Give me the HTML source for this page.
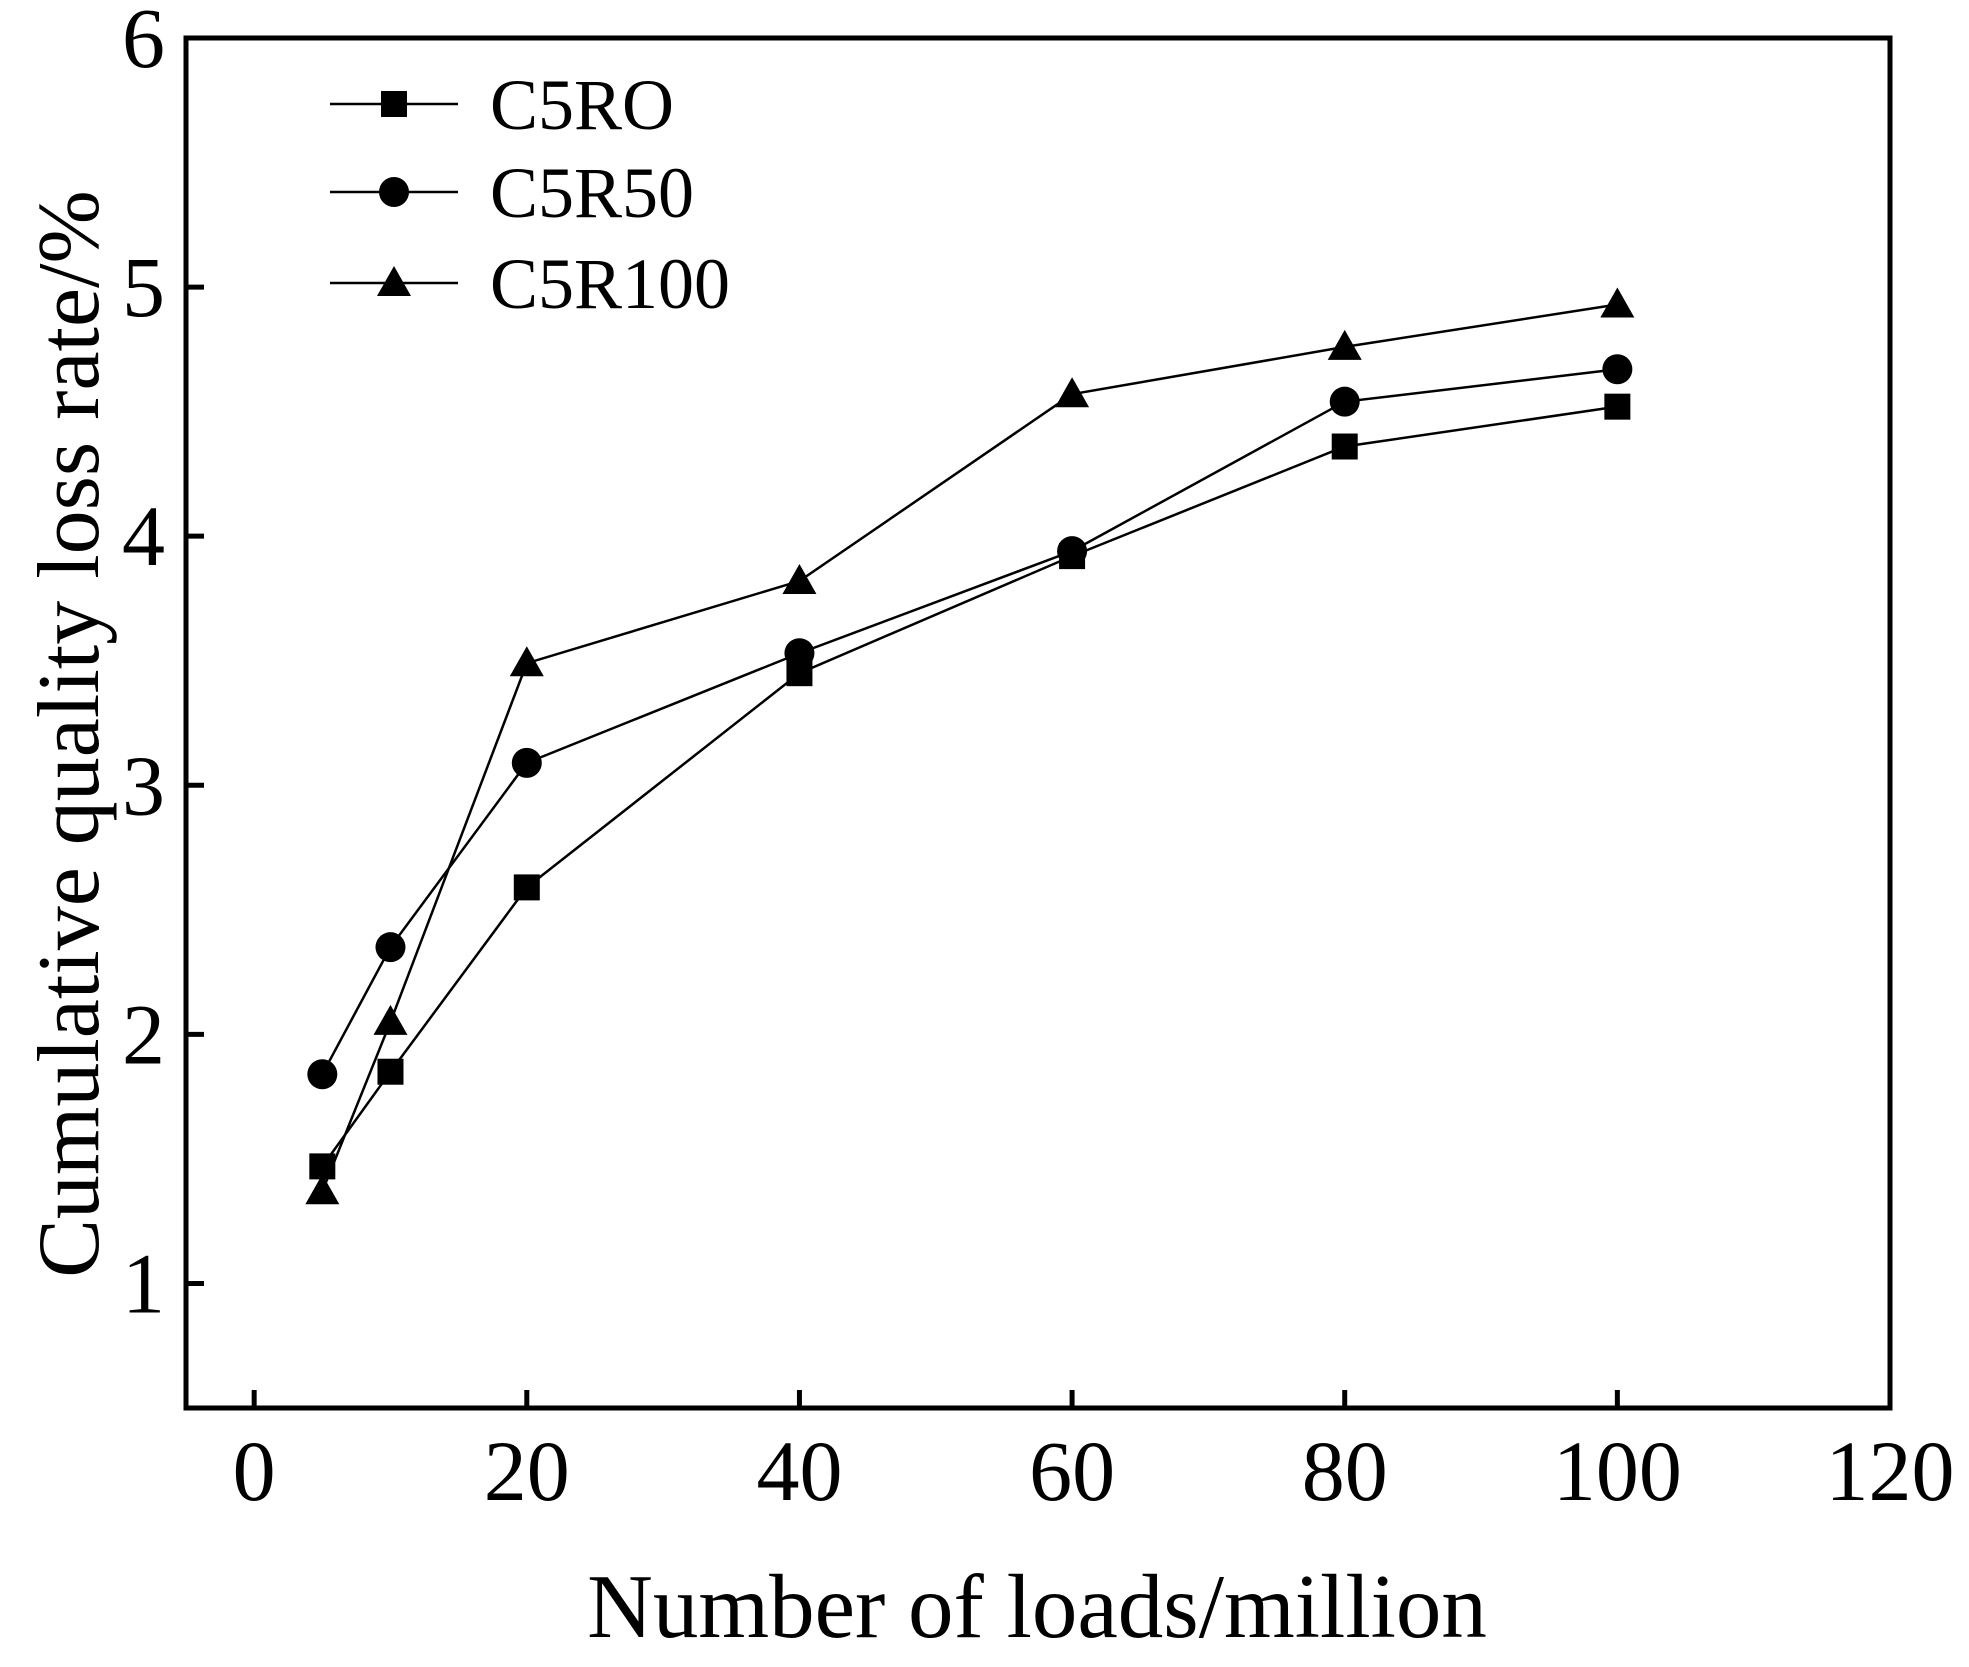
<!DOCTYPE html>
<html><head><meta charset="utf-8"><style>
html,body{margin:0;padding:0;background:#fff;}
svg text{font-family:"Liberation Serif",serif;fill:#000;}
</style></head><body>
<svg id="chart" width="1969" height="1662" viewBox="0 0 1969 1662" xmlns="http://www.w3.org/2000/svg">
<g id="plot"></g>
</svg>
<script>
const xValues = [5, 10, 20, 40, 60, 80, 100];
const seriesNames = ["C5RO", "C5R50", "C5R100"];
const c5ro = [1.47, 1.85, 2.59, 3.45, 3.92, 4.36, 4.52];
const c5r50 = [1.84, 2.35, 3.09, 3.53, 3.94, 4.54, 4.67];
const c5r100 = [1.37, 2.05, 3.49, 3.82, 4.57, 4.76, 4.93];
const xTicks = [0, 20, 40, 60, 80, 100, 120];
const yTicks = [1, 2, 3, 4, 5, 6];

const L=186,R=1890,T=38,B=1408;
const xMin=-5,xMax=120,yMin=0.5,yMax=6;
const sx=v=>L+(v-xMin)/(xMax-xMin)*(R-L);
const sy=v=>B-(v-yMin)/(yMax-yMin)*(B-T);
const NS="http://www.w3.org/2000/svg";
const g=document.getElementById('plot');
function mk(tag,attrs,parent){const e=document.createElementNS(NS,tag);for(const k in attrs)e.setAttribute(k,attrs[k]);(parent||g).appendChild(e);return e;}

let frame=mk('rect',{x:L,y:T,width:R-L,height:B-T,fill:'none',stroke:'#000','stroke-width':5});



xTicks.forEach(t=>{
  const x=sx(t);
  let tk=mk('line',{x1:x,x2:x,y1:B,y2:B-18,stroke:'#000','stroke-width':5});
  
  
  let lb=mk('text',{x:x,y:1500,'font-size':86,'text-anchor':'middle'});
  lb.textContent=t;
  
  
});
yTicks.forEach(t=>{
  const y=sy(t);
  let tk=mk('line',{x1:L,x2:L+18,y1:y,y2:y,stroke:'#000','stroke-width':5});
  
  
  let lb=mk('text',{x:165,y:y+29,'font-size':86,'text-anchor':'end'});
  lb.textContent=t;
  
  
});

let xt=mk('text',{x:1037,y:1637,'font-size':91,'text-anchor':'middle'});
xt.textContent='Number of loads/million';


let yt=mk('text',{x:0,y:0,'font-size':88,'text-anchor':'middle',transform:'translate(98,734) rotate(-90)'});
yt.textContent='Cumulative quality loss rate/%';



function marker(type,x,y,parent){
  let m;
  if(type===0) m=mk('rect',{x:x-13,y:y-13,width:26,height:26,fill:'#000'},parent);
  else if(type===1) m=mk('circle',{cx:x,cy:y,r:15,fill:'#000'},parent);
  else m=mk('polygon',{points:`${x},${y-17} ${x-17},${y+13} ${x+17},${y+13}`,fill:'#000'},parent);
  return m;
}
const allSeries=[c5ro,c5r50,c5r100];
allSeries.forEach((s,i)=>{
  const grp=mk('g',{});
  
  
  const pts=s.map((v,j)=>sx(xValues[j])+','+sy(v)).join(' ');
  let pl=mk('polyline',{points:pts,fill:'none',stroke:'#000','stroke-width':2.5},grp);
  
  
  s.forEach((v,j)=>{
    const m=marker(i,sx(xValues[j]),sy(v),grp);
    
    
  });
});

const legY=[104,192,283];
const leg=mk('g',{});


seriesNames.forEach((n,i)=>{
  const e=mk('g',{},leg);
  
  
  mk('line',{x1:330,x2:458,y1:legY[i],y2:legY[i],stroke:'#000','stroke-width':2.5},e);
  marker(i,394,legY[i],e);
  const t=mk('text',{x:490,y:legY[i]+25,'font-size':72},e);
  t.textContent=n;
});
</script>
</body></html>
